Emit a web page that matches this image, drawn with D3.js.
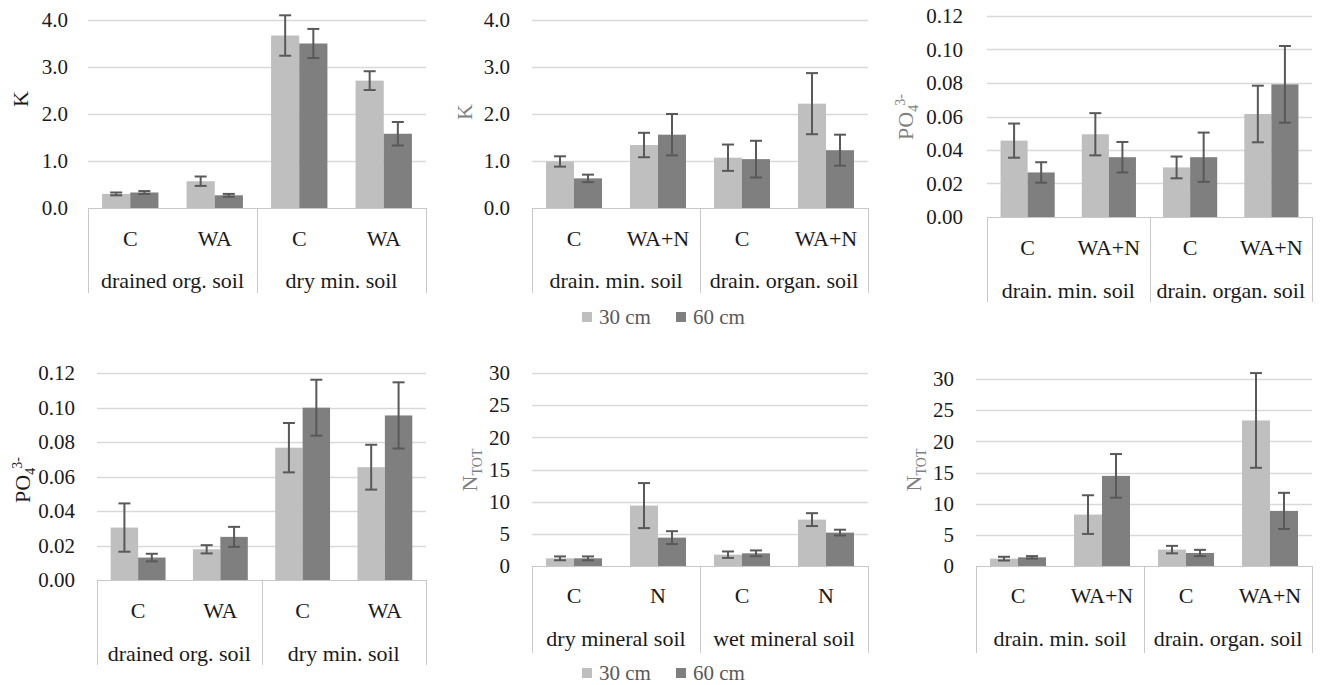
<!DOCTYPE html>
<html>
<head>
<meta charset="utf-8">
<script src="https://cdn.jsdelivr.net/npm/d3@7/dist/d3.min.js"></script>
<style>
  html, body { margin: 0; padding: 0; background: #ffffff; }
  svg { display: block; }
  svg text { font-family: "Liberation Serif", Tinos, "Times New Roman", "DejaVu Serif", serif !important; }
</style>
</head>
<body>
<svg id="chart" width="1320" height="685"></svg>
<script>
// ---------- DATA ----------
const seriesNames = ["30 cm", "60 cm"];

const groupsA = ["drained org. soil", "dry min. soil"];
const groupsB = ["drain. min. soil", "drain. organ. soil"];
const groupsC = ["dry mineral soil", "wet mineral soil"];

const catsA = ["C", "WA", "C", "WA"];
const catsB = ["C", "WA+N", "C", "WA+N"];
const catsC = ["C", "N", "C", "N"];

const kTicks = [0, 1, 2, 3, 4];
const poTicks = [0, 0.02, 0.04, 0.06, 0.08, 0.10, 0.12];
const nTicks = [0, 5, 10, 15, 20, 25, 30];

// Panel 1: K, drained org / dry min
const p1Val30 = [0.30, 0.57, 3.67, 2.71];
const p1Err30 = [0.03, 0.10, 0.43, 0.20];
const p1Val60 = [0.33, 0.27, 3.50, 1.58];
const p1Err60 = [0.03, 0.03, 0.31, 0.25];

// Panel 2: K, drain min / drain organ
const p2Val30 = [0.99, 1.34, 1.07, 2.22];
const p2Err30 = [0.11, 0.26, 0.28, 0.65];
const p2Val60 = [0.63, 1.56, 1.04, 1.23];
const p2Err60 = [0.08, 0.44, 0.39, 0.33];

// Panel 3: PO4, drain min / drain organ
const p3Val30 = [0.0456, 0.0494, 0.0296, 0.0615];
const p3Err30 = [0.0102, 0.0126, 0.0065, 0.0169];
const p3Val60 = [0.0266, 0.0357, 0.0357, 0.0792];
const p3Err60 = [0.0061, 0.0091, 0.0147, 0.0229];

// Panel 4: PO4, drained org / dry min
const p4Val30 = [0.0304, 0.0178, 0.0767, 0.0654];
const p4Err30 = [0.0140, 0.0024, 0.0143, 0.0130];
const p4Val60 = [0.0130, 0.0250, 0.0999, 0.0954];
const p4Err60 = [0.0022, 0.0058, 0.0162, 0.0192];

// Panel 5: NTOT, dry mineral / wet mineral
const p5Val30 = [1.19, 9.39, 1.76, 7.21];
const p5Err30 = [0.30, 3.50, 0.50, 1.00];
const p5Val60 = [1.19, 4.41, 1.97, 5.19];
const p5Err60 = [0.30, 1.00, 0.45, 0.45];

// Panel 6: NTOT, drain min / drain organ
const p6Val30 = [1.18, 8.25, 2.63, 23.35];
const p6Err30 = [0.30, 3.10, 0.60, 7.60];
const p6Val60 = [1.39, 14.46, 2.09, 8.84];
const p6Err60 = [0.20, 3.50, 0.50, 2.90];

// ---------- STYLE / LAYOUT ----------
const FONT = '"Liberation Serif", Tinos, "Times New Roman", "DejaVu Serif", serif';
const colors = ["#bfbfbf", "#7f7f7f"];
const errColor = "#595959";
const gridColor = "#d9d9d9";
const boxColor = "#c8c8c8";
const textColor = "#1a1a1a";
const fontSize = 21;
const labelSize = 22;

const panels = [
  { groups: groupsA, cats: catsA, vals: [p1Val30, p1Val60], errs: [p1Err30, p1Err60], ticks: kTicks, fmt: d3.format(".1f"),
    left: 88, right: 426, top: 20, zero: 208, bottom: 293, catY: 238, grpY: 280, tickRight: 68,
    label: "K", labelX: 20, labelY: 99, labelColor: "#1a1a1a" },
  { groups: groupsB, cats: catsB, vals: [p2Val30, p2Val60], errs: [p2Err30, p2Err60], ticks: kTicks, fmt: d3.format(".1f"),
    left: 532, right: 868, top: 20, zero: 208, bottom: 293, catY: 238, grpY: 280, tickRight: 510,
    label: "K", labelX: 464, labelY: 112, labelColor: "#7f7f7f" },
  { groups: groupsB, cats: catsB, vals: [p3Val30, p3Val60], errs: [p3Err30, p3Err60], ticks: poTicks, fmt: d3.format(".2f"),
    left: 987, right: 1312, top: 16, zero: 217, bottom: 302, catY: 247, grpY: 290, tickRight: 963,
    label: "PO", labelX: 905, labelY: 117, labelColor: "#7f7f7f" },
  { groups: groupsA, cats: catsA, vals: [p4Val30, p4Val60], errs: [p4Err30, p4Err60], ticks: poTicks, fmt: d3.format(".2f"),
    left: 97, right: 426, top: 373, zero: 580, bottom: 665, catY: 610, grpY: 653, tickRight: 75,
    label: "PO", labelX: 22, labelY: 480, labelColor: "#1a1a1a" },
  { groups: groupsC, cats: catsC, vals: [p5Val30, p5Val60], errs: [p5Err30, p5Err60], ticks: nTicks, fmt: d3.format("d"),
    left: 532, right: 868, top: 373, zero: 566, bottom: 653, catY: 595, grpY: 638, tickRight: 510,
    label: "N", labelX: 469, labelY: 470, labelColor: "#7f7f7f" },
  { groups: groupsB, cats: catsB, vals: [p6Val30, p6Val60], errs: [p6Err30, p6Err60], ticks: nTicks, fmt: d3.format("d"),
    left: 976, right: 1312, top: 379, zero: 566, bottom: 653, catY: 595, grpY: 638, tickRight: 954,
    label: "N", labelX: 913, labelY: 470, labelColor: "#7f7f7f" }
];

const legends = [ { x: 582, y: 317 }, { x: 582, y: 673 } ];

const svg = d3.select("#chart");

panels.forEach(p => {
  const g = svg.append("g").attr("font-family", FONT);
  const yMax = p.ticks[p.ticks.length - 1];
  const y = d3.scaleLinear().domain([0, yMax]).range([p.zero, p.top]);
  const idx = d3.range(p.cats.length);
  const x = d3.scaleBand().domain(idx).range([p.left, p.right]).paddingInner(1/3).paddingOuter(1/6);
  const xs = d3.scaleBand().domain([0, 1]).range([0, x.bandwidth()]);

  // gridlines (skip zero)
  g.selectAll(".grid").data(p.ticks.filter(t => t > 0)).join("line")
    .attr("x1", p.left).attr("x2", p.right)
    .attr("y1", d => Math.round(y(d)) + 0.5).attr("y2", d => Math.round(y(d)) + 0.5)
    .attr("stroke", gridColor).attr("stroke-width", 1.5);

  // tick labels via d3 axis
  const axis = d3.axisLeft(y).tickValues(p.ticks).tickFormat(p.fmt).tickSize(0).tickPadding(0);
  const ag = g.append("g").attr("transform", `translate(${p.tickRight},0)`).call(axis);
  ag.attr("font-family", FONT).attr("font-size", fontSize);
  ag.select(".domain").remove();
  ag.selectAll("text").attr("font-size", fontSize).attr("fill", textColor).style("font-family", FONT);

  // bars
  [0, 1].forEach(s => {
    g.selectAll(".bar" + s).data(idx).join("rect")
      .attr("x", i => x(i) + xs(s))
      .attr("width", xs.bandwidth())
      .attr("y", i => y(p.vals[s][i]))
      .attr("height", i => p.zero - y(p.vals[s][i]))
      .attr("fill", colors[s]);
  });
  // error bars
  [0, 1].forEach(s => {
    idx.forEach(i => {
      const cx = x(i) + xs(s) + xs.bandwidth() / 2;
      const v = p.vals[s][i], e = p.errs[s][i];
      const yh = y(v + e), yl = y(v - e);
      g.append("line").attr("x1", cx).attr("x2", cx).attr("y1", yh).attr("y2", yl)
        .attr("stroke", errColor).attr("stroke-width", 2);
      [yh, yl].forEach(yy => {
        g.append("line").attr("x1", cx - 6).attr("x2", cx + 6).attr("y1", yy).attr("y2", yy)
          .attr("stroke", errColor).attr("stroke-width", 2);
      });
    });
  });

  // category box
  const mid = (p.left + p.right) / 2;
  g.append("line").attr("x1", p.left).attr("x2", p.right).attr("y1", p.zero + 0.5).attr("y2", p.zero + 0.5)
    .attr("stroke", boxColor).attr("stroke-width", 1);
  [p.left, mid, p.right].forEach(xx => {
    g.append("line").attr("x1", Math.round(xx) + 0.5).attr("x2", Math.round(xx) + 0.5)
      .attr("y1", p.zero).attr("y2", p.bottom).attr("stroke", boxColor).attr("stroke-width", 1);
  });

  // category labels
  g.selectAll(".cat").data(idx).join("text")
    .attr("x", i => x(i) + x.bandwidth() / 2)
    .attr("y", p.catY).attr("dy", "0.35em")
    .attr("text-anchor", "middle").attr("font-size", labelSize).attr("fill", textColor)
    .text(i => p.cats[i]);
  // group labels
  g.selectAll(".grp").data(p.groups).join("text")
    .attr("x", (d, j) => j === 0 ? (p.left + mid) / 2 : (mid + p.right) / 2)
    .attr("y", p.grpY).attr("dy", "0.35em")
    .attr("text-anchor", "middle").attr("font-size", labelSize).attr("fill", textColor)
    .text(d => d);

  // y-axis label
  const lt = g.append("text")
    .attr("transform", `translate(${p.labelX},${p.labelY}) rotate(-90)`)
    .attr("text-anchor", "middle").attr("dy", "0.35em")
    .attr("font-size", labelSize).attr("fill", p.labelColor);
  if (p.label === "K") {
    lt.text("K");
  } else if (p.label === "PO") {
    lt.append("tspan").text("PO");
    lt.append("tspan").attr("font-size", 14).attr("dy", 5).text("4");
    lt.append("tspan").attr("font-size", 14).attr("dy", -13).attr("dx", -1).text("3-");
  } else {
    lt.append("tspan").text("N");
    lt.append("tspan").attr("font-size", 14).attr("dy", 5).text("TOT");
  }
});

// legends
legends.forEach(L => {
  const lg = svg.append("g").attr("transform", `translate(${L.x},${L.y})`).attr("font-family", FONT);
  const offs = [0, 94];
  seriesNames.forEach((name, s) => {
    lg.append("rect").attr("x", offs[s]).attr("y", -5).attr("width", 10).attr("height", 10).attr("fill", colors[s]);
    lg.append("text").attr("x", offs[s] + 17).attr("y", 0).attr("dy", "0.35em")
      .attr("font-size", fontSize).attr("fill", "#595959").text(name);
  });
});
</script>
</body>
</html>
